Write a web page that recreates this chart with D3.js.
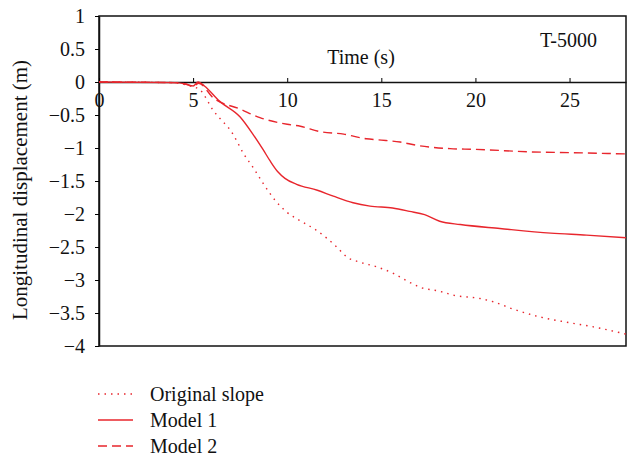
<!DOCTYPE html>
<html>
<head>
<meta charset="utf-8">
<script src="https://cdnjs.cloudflare.com/ajax/libs/d3/7.8.5/d3.min.js"></script>
<style>
    body { margin:0; background:#fff; }
    svg text { font-family:"Liberation Serif","Times New Roman",serif; fill:#111; }
</style>
</head>
<body>
<svg id="chart" width="629" height="458"></svg>
<script>

//Data (time in s, displacement in m)
var origTime  = [0, 4, 4.6, 5.0, 5.37, 6.07, 7.14, 7.67, 8.2, 8.73, 9.35, 9.97, 10.68, 11.57, 12.63, 13.16, 13.87, 14.75, 15.64, 16.4, 17.06, 18.1, 18.83, 20.24, 20.95, 22.0, 23.43, 24.85, 26.27, 28];
var origDisp  = [0, -0.01, -0.04, -0.07, -0.12, -0.43, -0.8, -1.08, -1.3, -1.54, -1.79, -1.97, -2.10, -2.25, -2.50, -2.65, -2.73, -2.80, -2.90, -3.02, -3.11, -3.17, -3.23, -3.28, -3.33, -3.44, -3.56, -3.64, -3.71, -3.82];

var m1Time    = [0, 4, 4.6, 5.0, 5.27, 5.6, 6.4, 7.5, 8.2, 8.73, 9.1, 9.5, 9.88, 10.5, 11.6, 12.45, 13.5, 14.4, 15.6, 16.5, 17.3, 18.1, 19.2, 21.3, 24, 25.9, 28];
var m1Disp    = [0, -0.01, -0.03, -0.06, 0, -0.06, -0.29, -0.53, -0.8, -1.03, -1.2, -1.36, -1.46, -1.55, -1.64, -1.73, -1.83, -1.88, -1.91, -1.96, -2.01, -2.11, -2.16, -2.22, -2.29, -2.32, -2.36];

var m2Time    = [0, 4, 4.6, 5.0, 5.3, 6.07, 7.5, 8.55, 10, 10.7, 11.7, 13, 14.2, 15, 16, 16.9, 18.65, 20, 23, 25, 28];
var m2Disp    = [0, -0.01, -0.03, -0.07, -0.02, -0.24, -0.41, -0.54, -0.64, -0.67, -0.75, -0.79, -0.86, -0.88, -0.91, -0.96, -1.01, -1.02, -1.06, -1.07, -1.09];

var seriesNames = ["Original slope", "Model 1", "Model 2"];
var xTicks      = [0, 5, 10, 15, 20, 25];
var yTicks      = [1, 0.5, 0, -0.5, -1, -1.5, -2, -2.5, -3, -3.5, -4];

var red     = "#e8262d";
var dashes  = ["1.5,5", null, "9,5"];

var svg = d3.select("#chart");
var m   = {left:99, top:16, right:3, bottom:112};
var W   = 629 - m.left - m.right;
var H   = 458 - m.top - m.bottom;

var x = d3.scaleLinear().domain([0, 28]).range([0, W]);
var y = d3.scaleLinear().domain([-4, 1]).range([H, 0]);

var g = svg.append("g").attr("transform", "translate(" + m.left + "," + m.top + ")");

//Minus sign like the original
function fmt(d)
{
    return (d < 0 ? "\u2212" : "") + Math.abs(d);
}

//Frame
g.append("rect")
    .attr("width", W).attr("height", H)
    .attr("fill", "none").attr("stroke", "#111").attr("stroke-width", 1.5);

//Y axis on the left
var ya = g.append("g")
    .call(d3.axisLeft(y).tickValues(yTicks).tickFormat(fmt).tickSizeInner(4).tickSizeOuter(0).tickPadding(10));
ya.select(".domain").attr("stroke-width", 1.5).attr("stroke", "#111");
ya.selectAll("text").style("font-size", "20px");

//X axis at y = 0, ticks pointing up
var xa = g.append("g")
    .attr("transform", "translate(0," + y(0) + ")")
    .call(d3.axisBottom(x).tickValues(xTicks).tickSizeInner(-4).tickSizeOuter(0));
xa.select(".domain").attr("stroke-width", 1.5).attr("stroke", "#111");
xa.selectAll("text").attr("y", 25).attr("dy", null).style("font-size", "20px");

//Series lines
var data = [
     d3.zip(origTime, origDisp)
    ,d3.zip(m1Time, m1Disp)
    ,d3.zip(m2Time, m2Disp)
];
var line = d3.line()
    .curve(d3.curveMonotoneX)
    .x(function(d){ return x(d[0]); })
    .y(function(d){ return y(d[1]); });

g.selectAll(".series")
    .data(data)
    .enter().append("path")
    .attr("class", "series")
    .attr("d", line)
    .attr("fill", "none")
    .attr("stroke", red)
    .attr("stroke-width", 1.4)
    .attr("stroke-dasharray", function(d, i){ return dashes[i]; });

//Labels
g.append("text").attr("x", 262).attr("y", 48).attr("text-anchor", "middle")
    .style("font-size", "20px").text("Time (s)");
g.append("text").attr("x", 498).attr("y", 31).attr("text-anchor", "end")
    .style("font-size", "20px").text("T-5000");
svg.append("text")
    .attr("transform", "translate(27,190) rotate(-90)")
    .attr("text-anchor", "middle")
    .style("font-size", "21px")
    .text("Longitudinal displacement (m)");

//Legend
var lg = svg.selectAll(".legend")
    .data(seriesNames)
    .enter().append("g")
    .attr("class", "legend")
    .attr("transform", function(d, i){ return "translate(98," + (401 + i * 26) + ")"; });
lg.append("line")
    .attr("x1", 0).attr("x2", 35).attr("y1", -7).attr("y2", -7)
    .attr("stroke", red).attr("stroke-width", 1.4)
    .attr("stroke-dasharray", function(d, i){ return dashes[i]; });
lg.append("text")
    .attr("x", 52).attr("y", 0)
    .style("font-size", "20px")
    .text(function(d){ return d; });

</script>
</body>
</html>
